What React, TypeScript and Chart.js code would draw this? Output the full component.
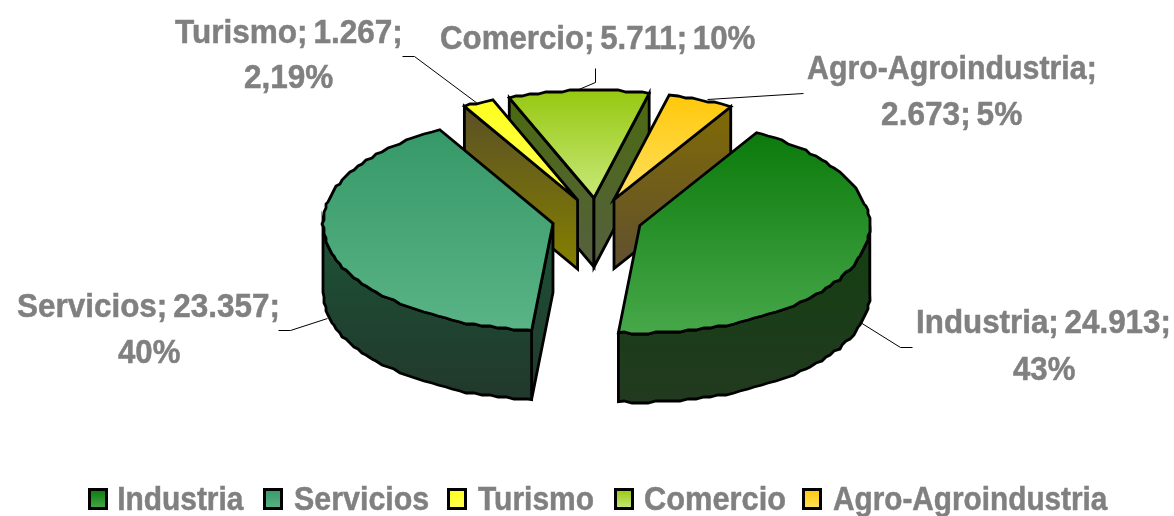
import React, { useEffect, useRef } from "react";
import { Chart, registerables } from "chart.js";

Chart.register(...registerables);

const categories = ["Industria", "Servicios", "Turismo", "Comercio", "Agro-Agroindustria"];
const values = [24913, 23357, 1267, 5711, 2673];
const labelLines = [
  ["Industria; 24.913;", "43%"],
  ["Servicios; 23.357;", "40%"],
  ["Turismo; 1.267;", "2,19%"],
  ["Comercio; 5.711; 10%"],
  ["Agro-Agroindustria;", "2.673; 5%"],
];
const baseColors = ["#2a8a28", "#47a578", "#ffff33", "#b0d840", "#ffd030"];
const topColors = [
  ["#0b7a0b", "#47a84a"],
  ["#369868", "#5ab485"],
  ["#ffff20", "#ffff50"],
  ["#96c810", "#c8e87a"],
  ["#ffc80a", "#ffe060"],
];
const wallColors = [
  ["#133f10", "#223a20"],
  ["#1c5236", "#22382c"],
  ["#5a5025", "#858000"],
  ["#4a6a10", "#566040"],
  ["#806a05", "#605030"],
];
const paintOrder = [3, 4, 2, 1, 0];
// left ink edge, right ink edge, baseline for every label line
const labelBoxes = [
  [[918, 1168, 333], [1013, 1075, 380]],
  [[17, 277, 317], [118, 180, 363]],
  [[175, 400, 43], [245, 333, 88]],
  [[441, 755, 49]],
  [[807, 1094, 79], [882, 1022, 125]],
];
const leaders = [
  [[912, 347], [900, 347], [860, 322]],
  [[278, 330], [290, 330], [327, 318]],
  [[402, 56], [414, 56], [477, 103]],
  [[595, 68], [595, 82], [576, 90]],
  [[803, 93], [707, 99]],
];
const legendBoxLefts = [88, 263, 447, 614, 802];
const legendTextBoxes = [
  [119, 244],
  [294, 428],
  [478, 593],
  [645, 785],
  [833, 1108],
];

const FONT = 'bold 33px "Liberation Sans"';
const TEXT = "#808080";
const Y_SCALE = 0.468;
const DEPTH = 69;
const FACET = (2 * Math.PI) / 180;
const GRID = 2;

function inkText(ctx: any, text: string, left: number, right: number, baseline: number) {
  const m = ctx.measureText(text);
  const ink = m.actualBoundingBoxRight + m.actualBoundingBoxLeft;
  const sx = (right - left) / ink;
  ctx.save();
  ctx.translate(left + m.actualBoundingBoxLeft * sx, baseline);
  ctx.scale(sx, 1);
  ctx.fillText(text, 0, 0);
  ctx.lineWidth = 0.5;
  ctx.strokeStyle = TEXT;
  ctx.strokeText(text, 0, 0);
  ctx.restore();
}

const pie3d = {
  id: "pie3d",
  beforeDatasetsDraw(chart: any) {
    const { ctx } = chart;
    const arcs = chart.getDatasetMeta(0).data;
    ctx.save();
    ctx.lineJoin = "miter";
    ctx.lineWidth = 2.8;
    ctx.strokeStyle = "#000";
    for (const i of paintOrder) {
      const arc = arcs[i];
      const off = (arc.options.offset || 0) / 4;
      const a0 = arc.startAngle;
      const a1 = arc.endAngle;
      const mid = (a0 + a1) / 2;
      const R = arc.outerRadius;
      const cx = arc.x + Math.cos(mid) * off;
      const cy = arc.y + Math.sin(mid) * off * Y_SCALE;
      const rim = (t: number) => [cx + R * Math.cos(t), cy + R * Y_SCALE * Math.sin(t)];

      // the rim is a slightly faceted outline, as in the reference's rendering
      const rimPoints = (t0: number, t1: number) => {
        const pts = [rim(t0)];
        for (let k = Math.ceil(t0 / FACET + 0.3); k * FACET < t1 - FACET * 0.3; k++) {
          const p = rim(k * FACET);
          pts.push([Math.round(p[0] / GRID) * GRID, Math.round(p[1] / GRID) * GRID]);
        }
        pts.push(rim(t1));
        return pts;
      };

      const samples: number[] = [cy];
      for (let k = 0; k <= 40; k++) samples.push(rim(a0 + ((a1 - a0) * k) / 40)[1]);
      const minY = Math.min(...samples);
      const maxY = Math.max(...samples);

      const wallGrad = (y0: number, y1: number) => {
        const g = ctx.createLinearGradient(0, y0, 0, y1);
        g.addColorStop(0, wallColors[i][0]);
        g.addColorStop(1, wallColors[i][1]);
        return g;
      };

      const edgeWall = (t: number) => {
        const p = rim(t);
        ctx.beginPath();
        ctx.moveTo(cx, cy);
        ctx.lineTo(p[0], p[1]);
        ctx.lineTo(p[0], p[1] + DEPTH);
        ctx.lineTo(cx, cy + DEPTH);
        ctx.closePath();
        ctx.fillStyle = wallGrad(Math.min(cy, p[1]), Math.max(cy, p[1]) + DEPTH);
        ctx.fill();
        ctx.stroke();
      };

      if (Math.cos(a0) < 0) edgeWall(a0);
      if (Math.cos(a1) > 0) edgeWall(a1);

      const r0 = Math.max(a0, 0);
      const r1 = Math.min(a1, Math.PI);
      if (r1 > r0) {
        const pts = rimPoints(r0, r1);
        ctx.beginPath();
        pts.forEach((p, k) => (k ? ctx.lineTo(p[0], p[1]) : ctx.moveTo(p[0], p[1])));
        for (let k = pts.length - 1; k >= 0; k--) ctx.lineTo(pts[k][0], pts[k][1] + DEPTH);
        ctx.closePath();
        ctx.fillStyle = wallGrad(cy, cy + R * Y_SCALE + DEPTH);
        ctx.fill();
        ctx.stroke();
      }

      ctx.beginPath();
      ctx.moveTo(cx, cy);
      rimPoints(a0, a1).forEach((p) => ctx.lineTo(p[0], p[1]));
      ctx.closePath();
      const g = ctx.createLinearGradient(0, minY, 0, maxY);
      g.addColorStop(0, topColors[i][0]);
      g.addColorStop(1, topColors[i][1]);
      ctx.fillStyle = g;
      ctx.fill();
      ctx.stroke();
    }
    ctx.restore();
    return false;
  },
  afterDraw(chart: any) {
    const { ctx } = chart;
    ctx.save();
    ctx.lineWidth = 1;
    ctx.strokeStyle = "#000";
    leaders.forEach((pts) => {
      ctx.beginPath();
      pts.forEach((p, k) => (k ? ctx.lineTo(p[0] + 0.5, p[1] + 0.5) : ctx.moveTo(p[0] + 0.5, p[1] + 0.5)));
      ctx.stroke();
    });

    ctx.font = FONT;
    ctx.fillStyle = TEXT;
    ctx.textAlign = "left";
    ctx.textBaseline = "alphabetic";
    ctx.wordSpacing = "-3px";
    labelLines.forEach((lines, i) => {
      lines.forEach((line, k) => {
        const b = labelBoxes[i][k];
        inkText(ctx, line, b[0], b[1], b[2]);
      });
    });

    // legend row
    chart.data.labels.forEach((name: string, i: number) => {
      const x = legendBoxLefts[i] + 1.5;
      const y = 489.5;
      const g = ctx.createLinearGradient(0, y, 0, y + 19);
      g.addColorStop(0, topColors[i][0]);
      g.addColorStop(1, topColors[i][1]);
      ctx.fillStyle = g;
      ctx.fillRect(x, y, 17, 19);
      ctx.lineWidth = 3;
      ctx.strokeStyle = "#000";
      ctx.strokeRect(x, y, 17, 19);
      ctx.fillStyle = TEXT;
      inkText(ctx, name, legendTextBoxes[i][0], legendTextBoxes[i][1], 510);
    });
    ctx.restore();
  },
};

export default function App() {
  const ref = useRef<HTMLCanvasElement>(null);
  useEffect(() => {
    document.body.style.margin = "0";
    document.body.style.background = "#fff";
    const chart = new Chart(ref.current as HTMLCanvasElement, {
      type: "pie",
      data: {
        labels: categories,
        datasets: [
          {
            data: values,
            backgroundColor: baseColors,
            borderWidth: 0,
            offset: 180,
          },
        ],
      },
      options: {
        responsive: false,
        animation: false,
        events: [],
        rotation: 30.5,
        radius: 230,
        layout: { padding: { left: 20, bottom: 78 } },
        plugins: { legend: { display: false }, tooltip: { enabled: false } },
      },
      plugins: [pie3d],
    } as any);
    return () => chart.destroy();
  }, []);
  return <canvas ref={ref} width={1174} height={516} style={{ display: "block" }} />;
}
